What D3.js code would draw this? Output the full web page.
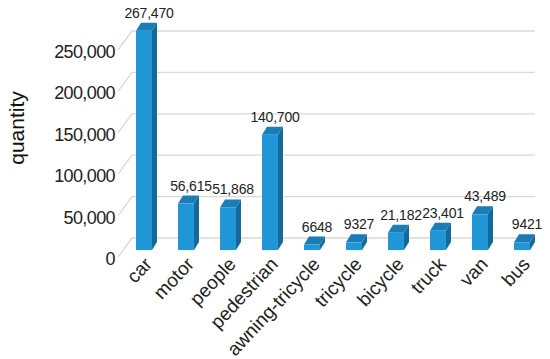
<!DOCTYPE html>
<html>
<head>
<meta charset="utf-8">
<script src="https://cdn.jsdelivr.net/npm/d3@7"></script>
<style>
  body { margin: 0; background: #fff; }
  svg { font-family: "Liberation Sans", Arial, sans-serif; }
</style>
</head>
<body>
<figure id="bars" style="margin:0"></figure>
<script>
const categories = ["car", "motor", "people", "pedestrian", "awning-tricycle", "tricycle", "bicycle", "truck", "van", "bus"];
const quantities = [267470, 56615, 51868, 140700, 6648, 9327, 21182, 23401, 43489, 9421];
const valueLabels = ["267,470", "56,615", "51,868", "140,700", "6648", "9327", "21,182", "23,401", "43,489", "9421"];
const ticks = [0, 50000, 100000, 150000, 200000, 250000];
const tickLabels = ["0", "50,000", "100,000", "150,000", "200,000", "250,000"];

const width = 550, height = 359;
// fake 3d: back wall and wall depth offset
const wall = {left: 132, right: 535, dx: -14, dy: 19};
const barDepth = {dx: 5, dy: -8};

const svg = d3.select("figure#bars")
  .append("svg")
  .attr("width", width)
  .attr("height", height);

const yWall = d3.scaleLinear().domain([0, 250000]).range([238, 31]);
const yBar = d3.scaleLinear().domain([0, 250000]).range([250, 45]);
const x = d3.scaleBand().domain(categories).range([123, 543])
  .paddingInner(0.62).paddingOuter(0.31);

// gridlines on back wall + side wall diagonal
const grid = svg.append("g")
    .attr("stroke", "#d9d9d9")
    .attr("stroke-width", 1.3)
    .attr("fill", "none");
grid.selectAll("path")
  .data(ticks)
  .join("path")
    .attr("d", d => `M${wall.left + wall.dx},${yWall(d) + wall.dy}L${wall.left},${yWall(d)}H${wall.right}`);

// y tick labels
svg.append("g")
    .attr("font-size", 18)
    .attr("fill", "#222")
    .attr("text-anchor", "end")
  .selectAll("text")
  .data(ticks)
  .join("text")
    .attr("x", 115)
    .attr("y", d => yWall(d) + wall.dy + 8)
    .attr("letter-spacing", -0.6)
    .text((d, i) => tickLabels[i]);

svg.append("text")
    .attr("transform", `translate(24,128)rotate(-90)`)
    .attr("text-anchor", "middle")
    .attr("font-size", 21)
    .attr("fill", "#111")
    .text("quantity");

// bars
const bw = x.bandwidth();
const bar = svg.append("g")
  .selectAll("g")
  .data(categories)
  .join("g");

bar.append("path") // side
    .attr("fill", "#14689a")
    .attr("d", (c, i) => {
      const x1 = x(c) + bw, t = yBar(quantities[i]), b = yBar(0);
      return `M${x1},${b}L${x1},${t}l${barDepth.dx},${barDepth.dy}L${x1 + barDepth.dx},${b + barDepth.dy}Z`;
    });
bar.append("path") // top
    .attr("fill", "#1a7db5")
    .attr("d", (c, i) => {
      const x0 = x(c), t = yBar(quantities[i]);
      return `M${x0},${t}l${barDepth.dx},${barDepth.dy}h${bw}l${-barDepth.dx},${-barDepth.dy}Z`;
    });
bar.append("rect") // front
    .attr("fill", "#2196d6")
    .attr("x", c => x(c))
    .attr("y", (c, i) => yBar(quantities[i]))
    .attr("width", bw)
    .attr("height", (c, i) => yBar(0) - yBar(quantities[i]));

// value labels
svg.append("g")
    .attr("font-size", 14)
    .attr("fill", "#222")
    .attr("text-anchor", "middle")
  .selectAll("text")
  .data(categories)
  .join("text")
    .attr("x", c => x(c) + bw / 2 + 5)
    .attr("y", (c, i) => yBar(quantities[i]) - 13)
    .attr("letter-spacing", -0.2)
    .text((c, i) => valueLabels[i]);

// category labels
svg.append("g")
    .attr("font-size", 19)
    .attr("fill", "#222")
    .attr("text-anchor", "end")
  .selectAll("text")
  .data(categories)
  .join("text")
    .attr("transform", c => `translate(${x(c) + bw / 2 + 9},${265})rotate(-47)`)
    .text(c => c);
</script>
</body>
</html>
